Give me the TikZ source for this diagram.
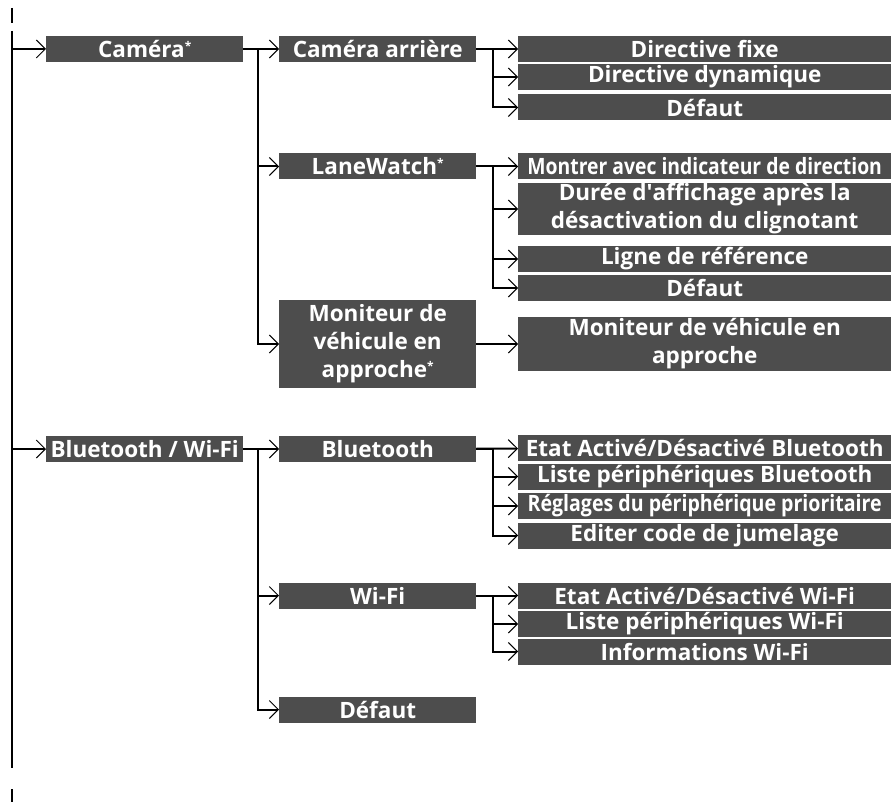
\documentclass[tikz,border=0pt]{standalone}
\usepackage{fontspec}
\setmainfont{Open Sans}
\usetikzlibrary{arrows.meta, positioning}
\definecolor{boxgray}{HTML}{4D4D4D}
\newcommand{\opt}{\raisebox{7pt}{\fontsize{12}{12}\selectfont *}}
\newcommand{\narrow}[2]{\scalebox{#1}[1]{#2}}

\begin{document}
\begin{tikzpicture}[x=1pt, y=-1pt,
  >={Straight Barb[length=9pt, width=18pt, line width=1pt]},
  lvl/.style={fill=boxgray, text=white, font=\fontsize{22.5}{28}\selectfont\bfseries,
    inner sep=0pt, anchor=west, align=center, minimum height=26pt},
  one/.style={lvl, minimum width=197pt},
  two/.style={lvl, minimum width=197pt},
  three/.style={lvl, minimum width=373pt},
  ln/.style={line width=2pt},
  arr/.style={ln, ->},
]
\useasboundingbox (0,0) rectangle (891,802);

% page markers
\draw[ln] (12,8) -- (12,23);
\draw[ln] (12,789) -- (12,802);

% === Level 1 ===
\node[one] (cam) at (46,49) {Caméra\opt};
\node[one] (bw) at (46,449) {Bluetooth / Wi-Fi};

% === Level 2 ===
\node[two] (rear) at (279,49) {Caméra arrière};
\node[two] (lane) at (279,166.5) {LaneWatch\opt};
\node[two, minimum height=88pt] (appr) at (279,344) {Moniteur de\\véhicule en\\approche\opt};
\node[two] (bt) at (279,449) {Bluetooth};
\node[two] (wifi) at (279,595.5) {Wi-Fi};
\node[two] (dflt) at (279,709.5) {Défaut};

% === Level 3: camera ===
\node[three] (fixe) at (518,49) {Directive fixe};
\node[three] (dyn) at (518,77) {Directive dynamique};
\node[three] (rdef) at (518,107.5) {Défaut};
\node[three] (show) at (518,166.5) {\narrow{0.86}{Montrer avec indicateur de direction}};
\node[three, minimum height=52pt] (dur) at (518,209) {Durée d\textquotesingle affichage après la\\désactivation du clignotant};
\node[three] (ref) at (518,259) {Ligne de référence};
\node[three] (ldef) at (518,288) {Défaut};
\node[three, minimum height=54pt] (mon) at (518,344) {Moniteur de véhicule en\\approche};

% === Level 3: bluetooth / wi-fi ===
\node[three] (bton) at (518,448) {Etat Activé/Désactivé Bluetooth};
\node[three] (btlist) at (518,476.5) {Liste périphériques Bluetooth};
\node[three] (prio) at (518,506) {\narrow{0.87}{Réglages du périphérique prioritaire}};
\node[three] (pair) at (518,535.5) {Editer code de jumelage};
\node[three] (wfon) at (518,595.5) {Etat Activé/Désactivé Wi-Fi};
\node[three] (wflist) at (518,624) {Liste périphériques Wi-Fi};
\node[three] (wfinfo) at (518,651.5) {Informations Wi-Fi};

% main spine
\coordinate (top) at (12,31);
\coordinate (bot) at (12,768);
\draw[ln] (top) -- (bot);
\draw[arr] (top |- cam) -- (cam);
\draw[arr] (top |- bw) -- (bw);

% level 1 -> level 2
\draw[arr] (cam) -- (rear);
\draw[arr] (cam.east) -- ++(15,0) |- (lane);
\draw[arr] (cam.east) -- ++(15,0) |- (appr);
\draw[arr] (bw) -- (bt);
\draw[arr] (bw.east) -- ++(15,0) |- (wifi);
\draw[arr] (bw.east) -- ++(15,0) |- (dflt);

% level 2 -> level 3
\draw[arr] (rear) -- (fixe);
\draw[arr] (rear.east) -- ++(17,0) |- (dyn);
\draw[arr] (rear.east) -- ++(17,0) |- (rdef);
\draw[arr] (lane) -- (show);
\draw[arr] (lane.east) -- ++(17,0) |- (dur);
\draw[arr] (lane.east) -- ++(17,0) |- (ref);
\draw[arr] (lane.east) -- ++(17,0) |- (ldef);
\draw[arr] (appr) -- (mon);
\draw[arr] (bt) -- (bton);
\draw[arr] (bt.east) -- ++(17,0) |- (btlist);
\draw[arr] (bt.east) -- ++(17,0) |- (prio);
\draw[arr] (bt.east) -- ++(17,0) |- (pair);
\draw[arr] (wifi) -- (wfon);
\draw[arr] (wifi.east) -- ++(17,0) |- (wflist);
\draw[arr] (wifi.east) -- ++(17,0) |- (wfinfo);

\end{tikzpicture}
\end{document}
